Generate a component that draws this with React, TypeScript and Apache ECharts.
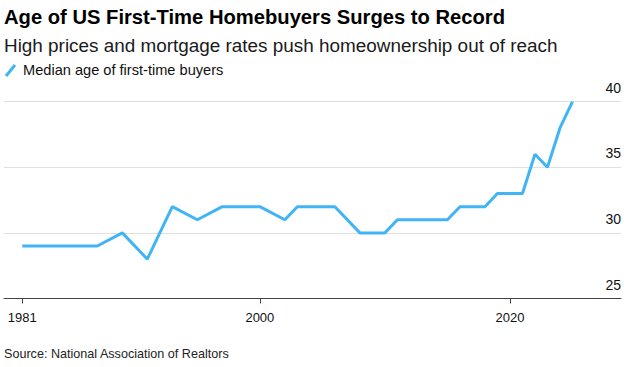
import React, { useEffect, useRef } from "react";
import * as echarts from "echarts";

const years = [1981, 1987, 1989, 1991, 1993, 1995, 1997, 2000, 2002, 2003, 2006, 2008, 2010, 2011, 2015, 2016, 2018, 2019, 2021, 2022, 2023, 2024, 2025];
const medianAge = [29, 29, 30, 28, 32, 31, 32, 32, 31, 32, 32, 30, 30, 31, 31, 32, 32, 33, 33, 36, 35, 38, 40];
const xTicks = [1981, 2000, 2020];
const yTicks = [25, 30, 35, 40];

const titleText = "Age of US First-Time Homebuyers Surges to Record";
const subtitleText = "High prices and mortgage rates push homeownership out of reach";
const legendText = "Median age of first-time buyers";
const sourceText = "Source: National Association of Realtors";

const FONT = "'Liberation Sans', Arial, sans-serif";
const LINE_COLOR = "#40b4f5";

export default function App() {
  const ref = useRef<HTMLDivElement>(null);
  useEffect(() => {
    if (!ref.current) return;
    const chart = echarts.init(ref.current, null, { renderer: "svg" });
    chart.setOption({
      animation: false,
      backgroundColor: "#ffffff",
      textStyle: { fontFamily: FONT },
      grid: { left: 4, right: 14, top: 101.7, bottom: 68.5, containLabel: false },
      xAxis: {
        type: "value",
        min: 1979.54,
        max: 2028.88,
        axisLine: { show: true, lineStyle: { color: "#444444", width: 1 } },
        axisTick: { show: true, length: 5, customValues: xTicks, lineStyle: { color: "#444444" } },
        axisLabel: {
          customValues: xTicks,
          formatter: (v: number) => String(v),
          color: "#111111",
          fontSize: 13,
          margin: 12,
          fontFamily: FONT,
        },
        splitLine: { show: false },
      },
      yAxis: {
        type: "value",
        position: "right",
        min: yTicks[0],
        max: yTicks[yTicks.length - 1],
        interval: 5,
        axisLine: { show: false },
        axisTick: { show: false },
        axisLabel: {
          inside: true,
          margin: 0,
          align: "right",
          verticalAlign: "bottom",
          padding: [0, 0, 7, 0],
          color: "#111111",
          fontSize: 14,
          fontFamily: FONT,
        },
        splitLine: { show: true, lineStyle: { color: "#e0e0e0", width: 1 } },
      },
      series: [
        {
          type: "line",
          name: legendText,
          data: years.map((y, i) => [y, medianAge[i]]),
          showSymbol: false,
          symbol: "none",
          lineStyle: { color: LINE_COLOR, width: 3 },
          itemStyle: { color: LINE_COLOR },
          z: 5,
        },
      ],
      graphic: [
        {
          type: "text",
          left: 4,
          top: 7,
          style: { text: titleText, font: `bold 20.2px ${FONT}`, fill: "#000000" },
        },
        {
          type: "text",
          left: 4,
          top: 36,
          style: { text: subtitleText, font: `18.9px ${FONT}`, fill: "#1a1a1a" },
        },
        {
          type: "line",
          shape: { x1: 6, y1: 76, x2: 15, y2: 65 },
          style: { stroke: LINE_COLOR, lineWidth: 3 },
        },
        {
          type: "text",
          left: 23,
          top: 62,
          style: { text: legendText, font: `14.6px ${FONT}`, fill: "#111111" },
        },
        {
          type: "text",
          left: 4,
          top: 347,
          style: { text: sourceText, font: `12.6px ${FONT}`, fill: "#222222" },
        },
      ],
    });
    return () => chart.dispose();
  }, []);
  return <div ref={ref} style={{ position: "fixed", left: 0, top: 0, width: 635, height: 367 }} />;
}
